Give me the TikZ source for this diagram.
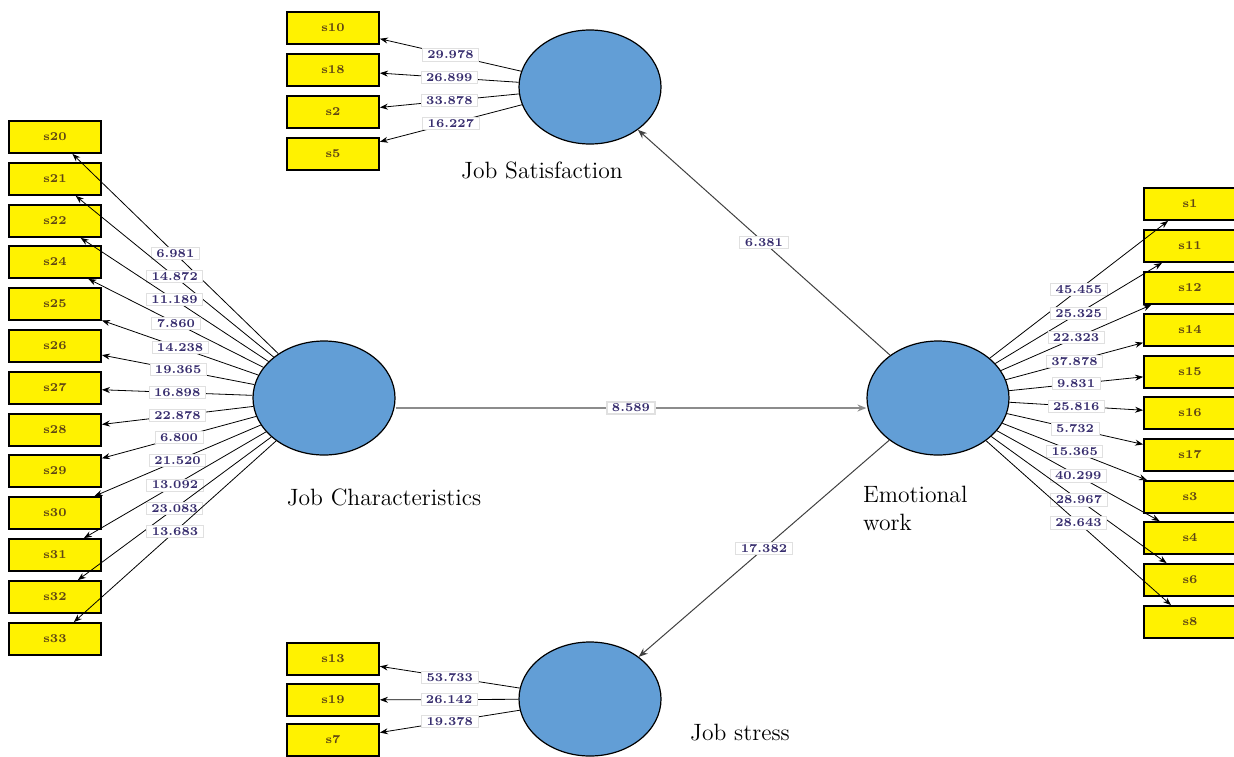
\documentclass[tikz,border=0pt]{standalone}
\usetikzlibrary{shapes.geometric,arrows.meta}

\definecolor{latblue}{RGB}{98,158,214}
\definecolor{valtext}{RGB}{55,45,110}
\definecolor{indtext}{RGB}{95,70,20}

\tikzset{
  ind/.style={draw,line width=0.9pt,fill=yellow,minimum width=46pt,minimum height=16pt,
    inner sep=0pt,text=indtext,font=\fontsize{6}{7}\selectfont\bfseries},
  lat/.style={ellipse,draw,line width=0.6pt,fill=latblue,minimum width=71pt,minimum height=57pt},
  load/.style={-{Stealth[length=4pt,width=3pt]},line width=0.4pt},
  struc/.style={-{Stealth[length=4.5pt,width=3.5pt]},line width=0.5pt,black!75},
  val/.style={fill=white,draw=black!12,inner xsep=2.5pt,inner ysep=1pt,text=valtext,
    font=\fontsize{6}{7}\selectfont\bfseries},
  ltitle/.style={font=\fontsize{11.8}{14}\selectfont}
}

\begin{document}
\begin{tikzpicture}[x=0.5pt,y=-0.5pt]
  \useasboundingbox (0,0) rectangle (1234,756);
  % latent variables
  \node[lat] (JS) at (590,87) {};
  \node[lat] (JC) at (324,398) {};
  \node[lat] (EW) at (938,398) {};
  \node[lat] (JT) at (590,699) {};
  \node[ltitle] (JSt) at (542,170) {Job Satisfaction};
  \node[ltitle] (JCt) at (384,497) {Job Characteristics};
  \node[ltitle,align=left,anchor=north west] (EWt) at (856,479) {Emotional\\work};
  \node[ltitle] (JTt) at (740,733) {Job stress};
  % indicators, left
  \node[ind] (s20) at (55,137) {s20};
  \node[ind] (s21) at (55,179) {s21};
  \node[ind] (s22) at (55,221) {s22};
  \node[ind] (s24) at (55,262) {s24};
  \node[ind] (s25) at (55,304) {s25};
  \node[ind] (s26) at (55,346) {s26};
  \node[ind] (s27) at (55,388) {s27};
  \node[ind] (s28) at (55,430) {s28};
  \node[ind] (s29) at (55,471) {s29};
  \node[ind] (s30) at (55,513) {s30};
  \node[ind] (s31) at (55,555) {s31};
  \node[ind] (s32) at (55,597) {s32};
  \node[ind] (s33) at (55,639) {s33};
  % indicators, top and bottom
  \node[ind] (s10) at (333,28) {s10};
  \node[ind] (s18) at (333,70) {s18};
  \node[ind] (s2) at (333,112) {s2};
  \node[ind] (s5) at (333,154) {s5};
  \node[ind] (s13) at (333,659) {s13};
  \node[ind] (s19) at (333,700) {s19};
  \node[ind] (s7) at (333,740) {s7};
  % indicators, right
  \node[ind] (s1) at (1190,204) {s1};
  \node[ind] (s11) at (1190,246) {s11};
  \node[ind] (s12) at (1190,288) {s12};
  \node[ind] (s14) at (1190,330) {s14};
  \node[ind] (s15) at (1190,372) {s15};
  \node[ind] (s16) at (1190,413) {s16};
  \node[ind] (s17) at (1190,455) {s17};
  \node[ind] (s3) at (1190,497) {s3};
  \node[ind] (s4) at (1190,538) {s4};
  \node[ind] (s6) at (1190,580) {s6};
  \node[ind] (s8) at (1190,622) {s8};
  % loadings
  \draw[load] (JC) -- node[val] {6.981} (s20);
  \draw[load] (JC) -- node[val] {14.872} (s21);
  \draw[load] (JC) -- node[val] {11.189} (s22);
  \draw[load] (JC) -- node[val] {7.860} (s24);
  \draw[load] (JC) -- node[val] {14.238} (s25);
  \draw[load] (JC) -- node[val] {19.365} (s26);
  \draw[load] (JC) -- node[val] {16.898} (s27);
  \draw[load] (JC) -- node[val] {22.878} (s28);
  \draw[load] (JC) -- node[val] {6.800} (s29);
  \draw[load] (JC) -- node[val] {21.520} (s30);
  \draw[load] (JC) -- node[val] {13.092} (s31);
  \draw[load] (JC) -- node[val] {23.083} (s32);
  \draw[load] (JC) -- node[val] {13.683} (s33);
  \draw[load] (JS) -- node[val] {29.978} (s10);
  \draw[load] (JS) -- node[val] {26.899} (s18);
  \draw[load] (JS) -- node[val] {33.878} (s2);
  \draw[load] (JS) -- node[val] {16.227} (s5);
  \draw[load] (JT) -- node[val] {53.733} (s13);
  \draw[load] (JT) -- node[val] {26.142} (s19);
  \draw[load] (JT) -- node[val] {19.378} (s7);
  \draw[load] (EW) -- node[val] {45.455} (s1);
  \draw[load] (EW) -- node[val] {25.325} (s11);
  \draw[load] (EW) -- node[val] {22.323} (s12);
  \draw[load] (EW) -- node[val] {37.878} (s14);
  \draw[load] (EW) -- node[val] {9.831} (s15);
  \draw[load] (EW) -- node[val] {25.816} (s16);
  \draw[load] (EW) -- node[val] {5.732} (s17);
  \draw[load] (EW) -- node[val] {15.365} (s3);
  \draw[load] (EW) -- node[val] {40.299} (s4);
  \draw[load] (EW) -- node[val] {28.967} (s6);
  \draw[load] (EW) -- node[val] {28.643} (s8);
  % structural paths
  \draw[struc,line width=0.9pt,black!45] ([yshift=-5pt]JC.east) -- node[val] {8.589} ([yshift=-5pt]EW.west);
  \draw[struc] (EW) -- node[val] {6.381} (JS);
  \draw[struc] (EW) -- node[val] {17.382} (JT);
\end{tikzpicture}
\end{document}
